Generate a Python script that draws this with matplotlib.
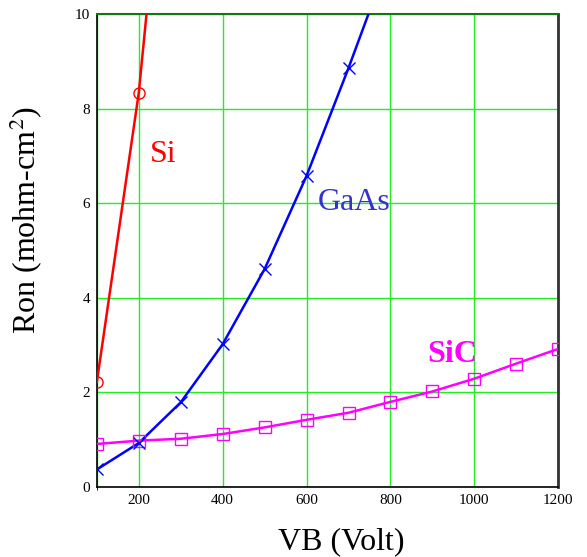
import numpy as np
import matplotlib
matplotlib.use("Agg")
import matplotlib.pyplot as plt

# values
si_v = [100, 200]
si_r = [2.22, 8.34]
si_line_v = [100, 200, 225]
si_line_r = [2.22, 8.34, 10.6]

gaas_v = [100, 200, 300, 400, 500, 600, 700]
gaas_r = [0.37, 0.93, 1.79, 3.02, 4.61, 6.58, 8.86]
gaas_line_v = gaas_v + [760]
gaas_line_r = gaas_r + [10.3]

sic_v = [100, 200, 300, 400, 500, 600, 700, 800, 900, 1000, 1100, 1200]
sic_r = [0.91, 0.98, 1.02, 1.12, 1.26, 1.42, 1.57, 1.80, 2.02, 2.29, 2.61, 2.92]

x_ticks = [200, 400, 600, 800, 1000, 1200]
y_ticks = [0, 2, 4, 6, 8, 10]

plt.rcParams['font.family'] = ['Liberation Serif', 'DejaVu Serif']
plt.rcParams['mathtext.fontset'] = 'stix'

fig = plt.figure(figsize=(5.87, 5.57), dpi=100)
ax = fig.add_axes([0.165, 0.1257, 0.786, 0.849])

ax.plot(si_line_v, si_line_r, color='red', lw=1.8, zorder=3)
ax.plot(si_v, si_r, ls='none', marker='o', ms=8, mfc='none', mec='red', mew=1, zorder=4)

ax.plot(gaas_line_v, gaas_line_r, color='blue', lw=1.8, zorder=3)
ax.plot(gaas_v, gaas_r, ls='none', marker='x', ms=9, mec='blue', mew=1, zorder=4)

ax.plot(sic_v, sic_r, color='magenta', lw=1.8, marker='s', ms=9, mfc='none',
        mec='magenta', mew=1, zorder=3)

ax.text(226, 7.04, 'Si', color='red', fontsize=23, va='center', ha='left')
ax.text(627, 6.02, 'GaAs', color='#3333cc', fontsize=23, va='center', ha='left')
ax.text(888, 2.81, 'SiC', color='magenta', fontsize=23, fontweight='bold',
        va='center', ha='left')

ax.set_xlim(100, 1200)
ax.set_ylim(0, 10)
ax.set_xticks(x_ticks)
ax.set_yticks(y_ticks)
ax.xaxis.set_minor_locator(matplotlib.ticker.FixedLocator([100]))
ax.tick_params(length=0, labelsize=11, pad=5)
ax.grid(True, color='#22ee22', lw=1.0, which='both')
ax.set_axisbelow(True)

for s in ['left', 'bottom']:
    ax.spines[s].set_linewidth(1.2)
ax.spines['right'].set_linewidth(2.0)
ax.spines['right'].set_color('#333333')
ax.spines['top'].set_linewidth(1.5)
ax.spines['top'].set_color('#117711')

ax.set_xlabel('VB (Volt)', fontsize=23)
ax.set_ylabel('Ron (mohm-cm$^2$)', fontsize=23)
ax.xaxis.set_label_coords(0.53, -0.086)
ax.yaxis.set_label_coords(-0.112, 0.565)

fig.savefig('out.png', dpi=100)
